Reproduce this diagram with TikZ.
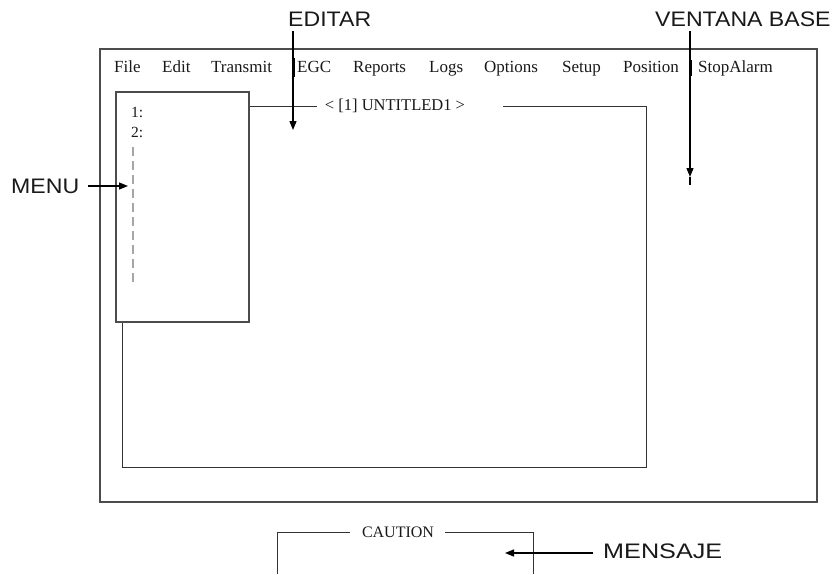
\documentclass[tikz,border=0pt]{standalone}
\usepackage{fontspec}
\setmainfont{Liberation Serif}
\newfontfamily\lsans{Liberation Sans}
\usetikzlibrary{arrows.meta}
\tikzset{
  box/.style={draw=black!70, line width=1.1pt},
  frame/.style={draw=black!80, line width=0.9pt},
  menuword/.style={anchor=base west, inner sep=0pt, font=\fontsize{17}{17}\selectfont, text=black!90},
  small/.style={inner sep=0pt, font=\fontsize{15.5}{15.5}\selectfont, text=black!90},
  label/.style={inner sep=0pt, font=\lsans\fontsize{21}{21}\selectfont, text=black!90},
  arr/.style={draw=black, line width=1.3pt, -{Triangle[length=9pt,width=7pt]}},
  thick bar/.style={draw=black, line width=3pt},
  dashline/.style={draw=black!35, line width=1.3pt, dash pattern=on 9pt off 5pt}
}
\begin{document}
\begin{tikzpicture}[x=1pt,y=-1pt]
\useasboundingbox (0,0) rectangle (838,574);
% outer base window
\draw[box] (100,49) rectangle (817,502);
% menu bar
\node[menuword] (mFile) at (114,72) {File};
\node[menuword] (mEdit) at (162,72) {Edit};
\node[menuword] (mTrans) at (211,72) {Transmit};
\node[menuword] (mEGC) at (297,72) {EGC};
\node[menuword] (mRep) at (353,72) {Reports};
\node[menuword] (mLogs) at (429,72) {Logs};
\node[menuword] (mOpt) at (484,72) {Options};
\node[menuword] (mSet) at (562,72) {Setup};
\node[menuword] (mPos) at (623,72) {Position};
\node[menuword] (mStop) at (698,72) {StopAlarm};
% edit window
\node[small, font=\fontsize{16.5}{16.5}\selectfont] (title) at (395,106) {< [1] UNTITLED1 >};
\draw[frame] (248,106) -- (317,106);
\draw[frame] (503,106) -- (646,106) -- (646,467) -- (122,467) -- (122,322);
% menu box
\draw[box, fill=white] (116,92) rectangle (249,322);
\node[small, anchor=west] (one) at (131,112) {1:};
\node[small, anchor=west] (two) at (131,132) {2:};
\coordinate (dA) at (133,147);
\coordinate (dB) at (133,286);
\draw[dashline] (dA) -- (dB);
% EDITAR
\node[label, anchor=west] (editar) at (288,19) {\scalebox{1.1}[1]{EDITAR}};
\coordinate (eS) at (293,31);
\coordinate (eT) at (293,130);
\draw[arr] (eS) -- (eT);
\draw[thick bar] (293,58) -- (293,77);
% VENTANA BASE
\node[label, anchor=west] (ventana) at (655,19) {\scalebox{1.1}[1]{VENTANA BASE}};
\coordinate (vS) at (690,31);
\coordinate (vT) at (690,177);
\coordinate (vE) at (690,185);
\draw[arr] (vS) -- (vT);
\draw[draw=black, line width=1.3pt] (vT) -- (vE);
\draw[thick bar] (690,60) -- (690,76);
% MENU
\node[label, anchor=west] (menu) at (11,186) {\scalebox{1.1}[1]{MENU}};
\coordinate (mS) at (88,186);
\coordinate (mT) at (128,186);
\draw[arr] (mS) -- (mT);
% CAUTION
\node[small, font=\fontsize{16}{16}\selectfont] (caution) at (398,532) {CAUTION};
\draw[frame] (350,532) -- (277,532) -- (277,574);
\draw[frame] (445,532) -- (533,532) -- (533,574);
% MENSAJE
\node[label, anchor=west] (mensaje) at (603,551) {\scalebox{1.2}[1]{MENSAJE}};
\coordinate (sS) at (593,553);
\coordinate (sT) at (505,553);
\draw[arr] (sS) -- (sT);
\end{tikzpicture}
\end{document}
